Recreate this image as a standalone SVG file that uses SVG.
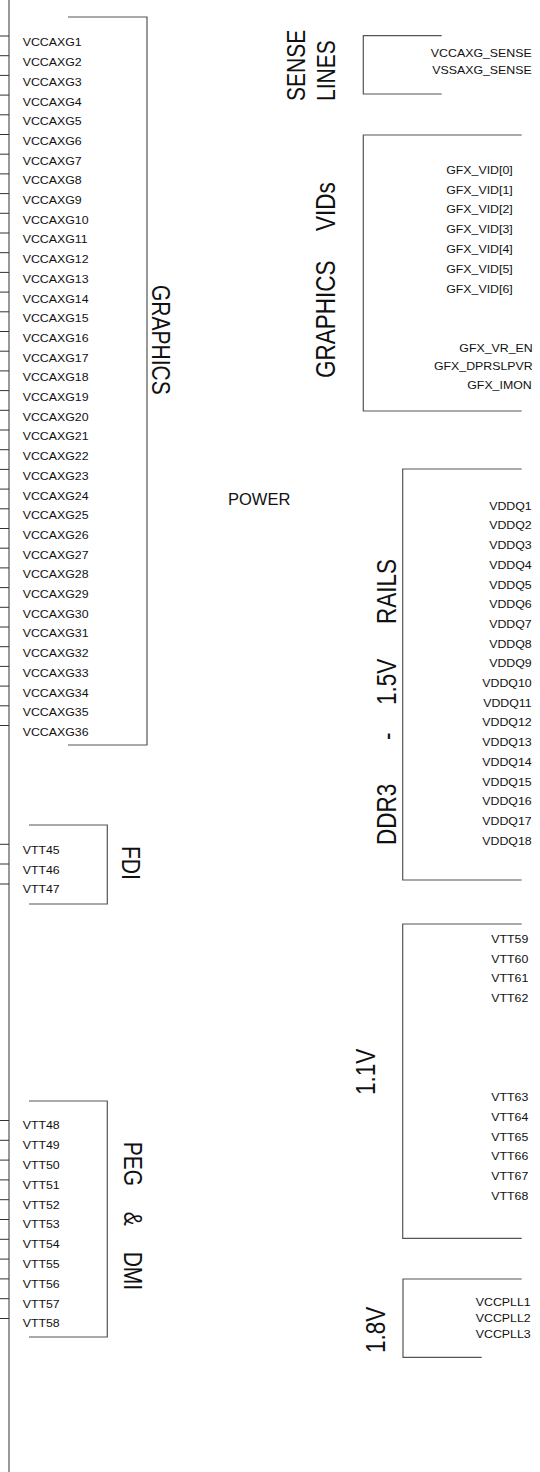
<svg xmlns="http://www.w3.org/2000/svg" width="540" height="1472" viewBox="0 0 540 1472">
<style>
.b{fill:none;stroke:#555;stroke-width:1.2}
.p{stroke:#333;stroke-width:1}
.t{font-family:"Liberation Sans",Arial,sans-serif;font-size:10.3px;fill:#111}
.e{text-anchor:end}
.L{font-family:"Liberation Sans",Arial,sans-serif;font-size:21px;fill:#111}
.M{font-size:22.5px}
</style>
<rect width="540" height="1472" fill="#fff"/>
<g id="connectors">
<line class="b" x1="9" y1="0" x2="9" y2="1472"/>
<g id="pins-left">
<line class="p" x1="0" y1="36" x2="9" y2="36"/><line class="p" x1="0" y1="55.7" x2="9" y2="55.7"/><line class="p" x1="0" y1="75.4" x2="9" y2="75.4"/><line class="p" x1="0" y1="95.1" x2="9" y2="95.1"/><line class="p" x1="0" y1="114.8" x2="9" y2="114.8"/><line class="p" x1="0" y1="134.5" x2="9" y2="134.5"/><line class="p" x1="0" y1="154.2" x2="9" y2="154.2"/><line class="p" x1="0" y1="173.9" x2="9" y2="173.9"/><line class="p" x1="0" y1="193.6" x2="9" y2="193.6"/><line class="p" x1="0" y1="213.3" x2="9" y2="213.3"/><line class="p" x1="0" y1="233" x2="9" y2="233"/><line class="p" x1="0" y1="252.7" x2="9" y2="252.7"/><line class="p" x1="0" y1="272.4" x2="9" y2="272.4"/><line class="p" x1="0" y1="292.1" x2="9" y2="292.1"/><line class="p" x1="0" y1="311.8" x2="9" y2="311.8"/><line class="p" x1="0" y1="331.5" x2="9" y2="331.5"/><line class="p" x1="0" y1="351.2" x2="9" y2="351.2"/><line class="p" x1="0" y1="370.9" x2="9" y2="370.9"/><line class="p" x1="0" y1="390.6" x2="9" y2="390.6"/><line class="p" x1="0" y1="410.3" x2="9" y2="410.3"/><line class="p" x1="0" y1="430" x2="9" y2="430"/><line class="p" x1="0" y1="449.7" x2="9" y2="449.7"/><line class="p" x1="0" y1="469.4" x2="9" y2="469.4"/><line class="p" x1="0" y1="489.1" x2="9" y2="489.1"/><line class="p" x1="0" y1="508.8" x2="9" y2="508.8"/><line class="p" x1="0" y1="528.5" x2="9" y2="528.5"/><line class="p" x1="0" y1="548.2" x2="9" y2="548.2"/><line class="p" x1="0" y1="567.9" x2="9" y2="567.9"/><line class="p" x1="0" y1="587.6" x2="9" y2="587.6"/><line class="p" x1="0" y1="607.3" x2="9" y2="607.3"/><line class="p" x1="0" y1="627" x2="9" y2="627"/><line class="p" x1="0" y1="646.7" x2="9" y2="646.7"/><line class="p" x1="0" y1="666.4" x2="9" y2="666.4"/><line class="p" x1="0" y1="686.1" x2="9" y2="686.1"/><line class="p" x1="0" y1="705.8" x2="9" y2="705.8"/><line class="p" x1="0" y1="725.5" x2="9" y2="725.5"/>
<line class="p" x1="0" y1="844.3" x2="9" y2="844.3"/><line class="p" x1="0" y1="864" x2="9" y2="864"/><line class="p" x1="0" y1="884" x2="9" y2="884"/>
<line class="p" x1="0" y1="1120.5" x2="9" y2="1120.5"/><line class="p" x1="0" y1="1140.3" x2="9" y2="1140.3"/><line class="p" x1="0" y1="1160.1" x2="9" y2="1160.1"/><line class="p" x1="0" y1="1179.9" x2="9" y2="1179.9"/><line class="p" x1="0" y1="1199.7" x2="9" y2="1199.7"/><line class="p" x1="0" y1="1219.5" x2="9" y2="1219.5"/><line class="p" x1="0" y1="1239.3" x2="9" y2="1239.3"/><line class="p" x1="0" y1="1259.1" x2="9" y2="1259.1"/><line class="p" x1="0" y1="1278.9" x2="9" y2="1278.9"/><line class="p" x1="0" y1="1298.7" x2="9" y2="1298.7"/><line class="p" x1="0" y1="1318.5" x2="9" y2="1318.5"/>
</g>
</g>
<g id="graphics">
<polyline class="b" points="68,17 147,17 147,745 68,745"/>
<g class="t">
<text transform="translate(22.7,46.4) scale(1.2,1)">VCCAXG1</text><text transform="translate(22.7,66.1) scale(1.2,1)">VCCAXG2</text><text transform="translate(22.7,85.8) scale(1.2,1)">VCCAXG3</text><text transform="translate(22.7,105.5) scale(1.2,1)">VCCAXG4</text><text transform="translate(22.7,125.2) scale(1.2,1)">VCCAXG5</text><text transform="translate(22.7,144.9) scale(1.2,1)">VCCAXG6</text><text transform="translate(22.7,164.6) scale(1.2,1)">VCCAXG7</text><text transform="translate(22.7,184.3) scale(1.2,1)">VCCAXG8</text><text transform="translate(22.7,204) scale(1.2,1)">VCCAXG9</text><text transform="translate(22.7,223.7) scale(1.2,1)">VCCAXG10</text><text transform="translate(22.7,243.4) scale(1.2,1)">VCCAXG11</text><text transform="translate(22.7,263.1) scale(1.2,1)">VCCAXG12</text><text transform="translate(22.7,282.8) scale(1.2,1)">VCCAXG13</text><text transform="translate(22.7,302.5) scale(1.2,1)">VCCAXG14</text><text transform="translate(22.7,322.2) scale(1.2,1)">VCCAXG15</text><text transform="translate(22.7,341.9) scale(1.2,1)">VCCAXG16</text><text transform="translate(22.7,361.6) scale(1.2,1)">VCCAXG17</text><text transform="translate(22.7,381.3) scale(1.2,1)">VCCAXG18</text><text transform="translate(22.7,401) scale(1.2,1)">VCCAXG19</text><text transform="translate(22.7,420.7) scale(1.2,1)">VCCAXG20</text><text transform="translate(22.7,440.4) scale(1.2,1)">VCCAXG21</text><text transform="translate(22.7,460.1) scale(1.2,1)">VCCAXG22</text><text transform="translate(22.7,479.8) scale(1.2,1)">VCCAXG23</text><text transform="translate(22.7,499.5) scale(1.2,1)">VCCAXG24</text><text transform="translate(22.7,519.2) scale(1.2,1)">VCCAXG25</text><text transform="translate(22.7,538.9) scale(1.2,1)">VCCAXG26</text><text transform="translate(22.7,558.6) scale(1.2,1)">VCCAXG27</text><text transform="translate(22.7,578.3) scale(1.2,1)">VCCAXG28</text><text transform="translate(22.7,598) scale(1.2,1)">VCCAXG29</text><text transform="translate(22.7,617.7) scale(1.2,1)">VCCAXG30</text><text transform="translate(22.7,637.4) scale(1.2,1)">VCCAXG31</text><text transform="translate(22.7,657.1) scale(1.2,1)">VCCAXG32</text><text transform="translate(22.7,676.8) scale(1.2,1)">VCCAXG33</text><text transform="translate(22.7,696.5) scale(1.2,1)">VCCAXG34</text><text transform="translate(22.7,716.2) scale(1.2,1)">VCCAXG35</text><text transform="translate(22.7,735.9) scale(1.2,1)">VCCAXG36</text>
</g>
<text class="L" transform="translate(151.7,285) scale(1.2,1) rotate(90)">GRAPHICS</text>
</g>
<g id="fdi">
<polyline class="b" points="29,825 107.3,825 107.3,904 29,904"/>
<g class="t">
<text transform="translate(22.7,854.4) scale(1.2,1)">VTT45</text><text transform="translate(22.7,873.7) scale(1.2,1)">VTT46</text><text transform="translate(22.7,893) scale(1.2,1)">VTT47</text>
</g>
<text class="L" transform="translate(121.7,846) scale(1.2,1) rotate(90)">FDI</text>
</g>
<g id="peg-dmi">
<polyline class="b" points="29,1101 107.3,1101 107.3,1337 29,1337"/>
<g class="t">
<text transform="translate(22.7,1129.4) scale(1.2,1)">VTT48</text><text transform="translate(22.7,1149.2) scale(1.2,1)">VTT49</text><text transform="translate(22.7,1169) scale(1.2,1)">VTT50</text><text transform="translate(22.7,1188.8) scale(1.2,1)">VTT51</text><text transform="translate(22.7,1208.6) scale(1.2,1)">VTT52</text><text transform="translate(22.7,1228.4) scale(1.2,1)">VTT53</text><text transform="translate(22.7,1248.2) scale(1.2,1)">VTT54</text><text transform="translate(22.7,1268) scale(1.2,1)">VTT55</text><text transform="translate(22.7,1287.8) scale(1.2,1)">VTT56</text><text transform="translate(22.7,1307.6) scale(1.2,1)">VTT57</text><text transform="translate(22.7,1327.4) scale(1.2,1)">VTT58</text>
</g>
<text class="L" transform="translate(124,1141.7) scale(1.2,1) rotate(90)">PEG</text>
<text class="L" transform="translate(124,1211.7) scale(1.2,1) rotate(90)">&amp;</text>
<text class="L" transform="translate(124,1251.7) scale(1.2,1) rotate(90)">DMI</text>
</g>
<g id="sense-lines">
<polyline class="b" points="441.7,35.7 363.3,35.7 363.3,94 441.7,94"/>
<g class="t e">
<text transform="translate(531.7,57) scale(1.2,1)">VCCAXG_SENSE</text><text transform="translate(531.7,73.5) scale(1.2,1)">VSSAXG_SENSE</text>
</g>
<text class="L" transform="translate(305,101) scale(1.2,1) rotate(-90)">SENSE</text>
<text class="L" transform="translate(335,101) scale(1.2,1) rotate(-90)">LINES</text>
</g>
<g id="graphics-vids">
<polyline class="b" points="521.7,135 363.3,135 363.3,411 521.7,411"/>
<g class="t e">
<text transform="translate(512.7,173.7) scale(1.2,1)">GFX_VID[0]</text><text transform="translate(512.7,193.5) scale(1.2,1)">GFX_VID[1]</text><text transform="translate(512.7,213.3) scale(1.2,1)">GFX_VID[2]</text><text transform="translate(512.7,233.1) scale(1.2,1)">GFX_VID[3]</text><text transform="translate(512.7,252.9) scale(1.2,1)">GFX_VID[4]</text><text transform="translate(512.7,272.7) scale(1.2,1)">GFX_VID[5]</text><text transform="translate(512.7,292.5) scale(1.2,1)">GFX_VID[6]</text>
<text transform="translate(532.7,352) scale(1.2,1)">GFX_VR_EN</text><text transform="translate(532.7,370.4) scale(1.2,1)">GFX_DPRSLPVR</text><text transform="translate(531.7,389.4) scale(1.2,1)">GFX_IMON</text>
</g>
<text class="L M" transform="translate(335,378) scale(1.2,1) rotate(-90)">GRAPHICS</text>
<text class="L M" transform="translate(335,231) scale(1.2,1) rotate(-90)">VIDs</text>
</g>
<g id="power">
<text class="L" style="font-size:16.5px" transform="translate(228,505)">POWER</text>
</g>
<g id="ddr3">
<polyline class="b" points="521.7,469 402.7,469 402.7,880 521.7,880"/>
<g class="t e">
<text transform="translate(531.7,509.7) scale(1.2,1)">VDDQ1</text><text transform="translate(531.7,529.4) scale(1.2,1)">VDDQ2</text><text transform="translate(531.7,549.1) scale(1.2,1)">VDDQ3</text><text transform="translate(531.7,568.8) scale(1.2,1)">VDDQ4</text><text transform="translate(531.7,588.5) scale(1.2,1)">VDDQ5</text><text transform="translate(531.7,608.2) scale(1.2,1)">VDDQ6</text><text transform="translate(531.7,627.9) scale(1.2,1)">VDDQ7</text><text transform="translate(531.7,647.6) scale(1.2,1)">VDDQ8</text><text transform="translate(531.7,667.3) scale(1.2,1)">VDDQ9</text><text transform="translate(531.7,687) scale(1.2,1)">VDDQ10</text><text transform="translate(531.7,706.7) scale(1.2,1)">VDDQ11</text><text transform="translate(531.7,726.4) scale(1.2,1)">VDDQ12</text><text transform="translate(531.7,746.1) scale(1.2,1)">VDDQ13</text><text transform="translate(531.7,765.8) scale(1.2,1)">VDDQ14</text><text transform="translate(531.7,785.5) scale(1.2,1)">VDDQ15</text><text transform="translate(531.7,805.2) scale(1.2,1)">VDDQ16</text><text transform="translate(531.7,824.9) scale(1.2,1)">VDDQ17</text><text transform="translate(531.7,844.6) scale(1.2,1)">VDDQ18</text>
</g>
<text class="L M" transform="translate(396,845) scale(1.2,1) rotate(-90)">DDR3</text>
<text class="L M" transform="translate(396,740) scale(1.2,1) rotate(-90)">-</text>
<text class="L M" transform="translate(396,705) scale(1.2,1) rotate(-90)">1.5V</text>
<text class="L M" transform="translate(396,624) scale(1.2,1) rotate(-90)">RAILS</text>
</g>
<g id="vtt-1v1">
<polyline class="b" points="521.7,924 402.7,924 402.7,1238.3 521.7,1238.3"/>
<g class="t e">
<text transform="translate(528.3,942.7) scale(1.2,1)">VTT59</text><text transform="translate(528.3,962.5) scale(1.2,1)">VTT60</text><text transform="translate(528.3,982.3) scale(1.2,1)">VTT61</text><text transform="translate(528.3,1001.7) scale(1.2,1)">VTT62</text>
<text transform="translate(528.3,1100.7) scale(1.2,1)">VTT63</text><text transform="translate(528.3,1120.7) scale(1.2,1)">VTT64</text><text transform="translate(528.3,1140.5) scale(1.2,1)">VTT65</text><text transform="translate(528.3,1160.3) scale(1.2,1)">VTT66</text><text transform="translate(528.3,1179.9) scale(1.2,1)">VTT67</text><text transform="translate(528.3,1199.7) scale(1.2,1)">VTT68</text>
</g>
<text class="L M" transform="translate(375,1095) scale(1.2,1) rotate(-90)">1.1V</text>
</g>
<g id="pll-1v8">
<polyline class="b" points="521.7,1279 403,1279 403,1357.3 481.7,1357.3"/>
<g class="t e">
<text transform="translate(530.7,1306) scale(1.2,1)">VCCPLL1</text><text transform="translate(530.7,1321.5) scale(1.2,1)">VCCPLL2</text><text transform="translate(530.7,1337.7) scale(1.2,1)">VCCPLL3</text>
</g>
<text class="L M" transform="translate(385,1353) scale(1.2,1) rotate(-90)">1.8V</text>
</g>
</svg>
